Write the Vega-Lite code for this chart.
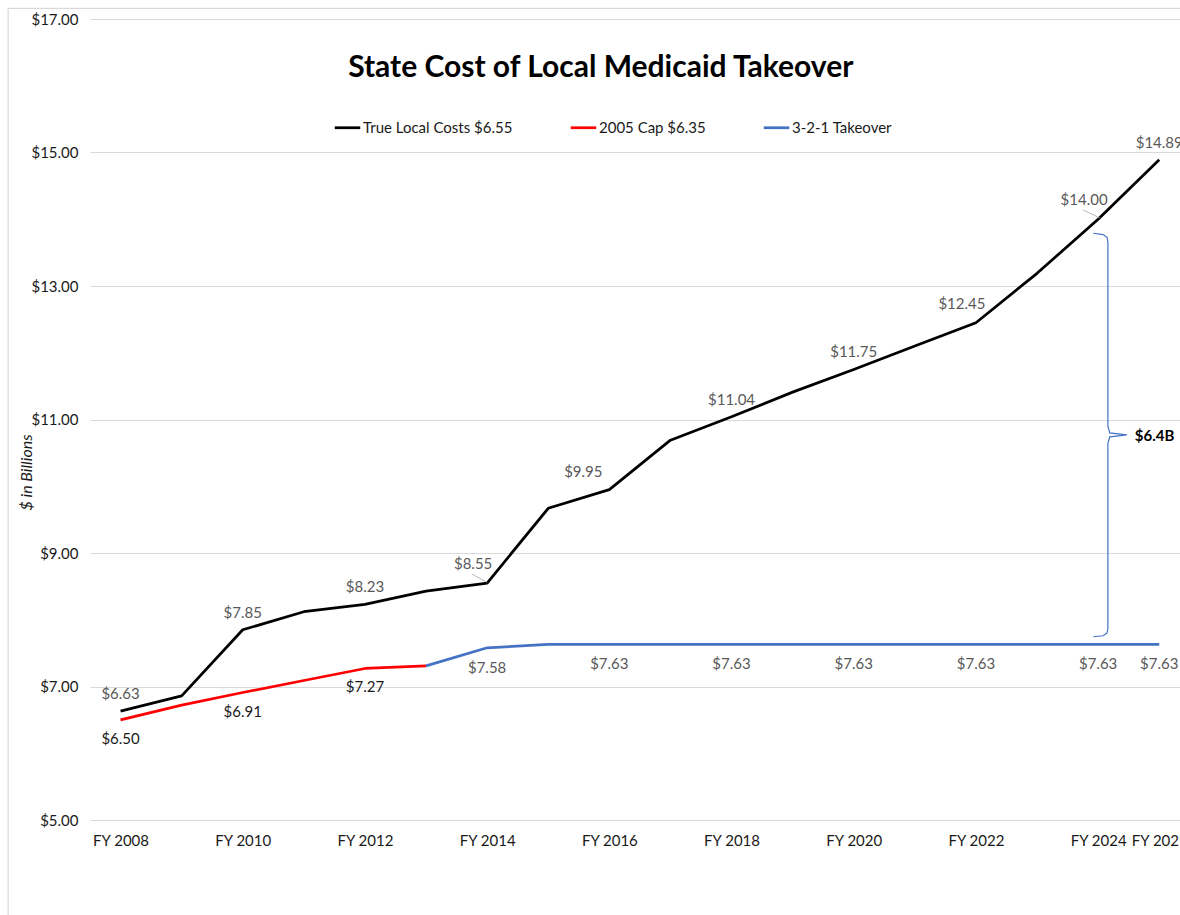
{
  "$schema": "https://vega.github.io/schema/vega-lite/v6.json",
  "autosize": "none",
  "width": 1090,
  "height": 801,
  "padding": {"left": 90, "top": 19, "right": 0, "bottom": 95},
  "config": {"font": "Lato", "view": {"stroke": null}},
  "datasets": {
    "main": [
      {"year": 2008, "series": "True Local Costs $6.55", "value": 6.63},
      {"year": 2009, "series": "True Local Costs $6.55", "value": 6.86},
      {"year": 2010, "series": "True Local Costs $6.55", "value": 7.85},
      {"year": 2011, "series": "True Local Costs $6.55", "value": 8.12},
      {"year": 2012, "series": "True Local Costs $6.55", "value": 8.23},
      {"year": 2013, "series": "True Local Costs $6.55", "value": 8.43},
      {"year": 2014, "series": "True Local Costs $6.55", "value": 8.55},
      {"year": 2015, "series": "True Local Costs $6.55", "value": 9.67},
      {"year": 2016, "series": "True Local Costs $6.55", "value": 9.95},
      {"year": 2017, "series": "True Local Costs $6.55", "value": 10.69},
      {"year": 2018, "series": "True Local Costs $6.55", "value": 11.04},
      {"year": 2019, "series": "True Local Costs $6.55", "value": 11.41},
      {"year": 2020, "series": "True Local Costs $6.55", "value": 11.75},
      {"year": 2021, "series": "True Local Costs $6.55", "value": 12.10},
      {"year": 2022, "series": "True Local Costs $6.55", "value": 12.45},
      {"year": 2023, "series": "True Local Costs $6.55", "value": 13.19},
      {"year": 2024, "series": "True Local Costs $6.55", "value": 14.00},
      {"year": 2025, "series": "True Local Costs $6.55", "value": 14.89},
      {"year": 2008, "series": "2005 Cap $6.35", "value": 6.50},
      {"year": 2009, "series": "2005 Cap $6.35", "value": 6.72},
      {"year": 2010, "series": "2005 Cap $6.35", "value": 6.91},
      {"year": 2011, "series": "2005 Cap $6.35", "value": 7.09},
      {"year": 2012, "series": "2005 Cap $6.35", "value": 7.27},
      {"year": 2013, "series": "2005 Cap $6.35", "value": 7.31},
      {"year": 2013, "series": "3-2-1 Takeover", "value": 7.31},
      {"year": 2014, "series": "3-2-1 Takeover", "value": 7.58},
      {"year": 2015, "series": "3-2-1 Takeover", "value": 7.63},
      {"year": 2016, "series": "3-2-1 Takeover", "value": 7.63},
      {"year": 2017, "series": "3-2-1 Takeover", "value": 7.63},
      {"year": 2018, "series": "3-2-1 Takeover", "value": 7.63},
      {"year": 2019, "series": "3-2-1 Takeover", "value": 7.63},
      {"year": 2020, "series": "3-2-1 Takeover", "value": 7.63},
      {"year": 2021, "series": "3-2-1 Takeover", "value": 7.63},
      {"year": 2022, "series": "3-2-1 Takeover", "value": 7.63},
      {"year": 2023, "series": "3-2-1 Takeover", "value": 7.63},
      {"year": 2024, "series": "3-2-1 Takeover", "value": 7.63},
      {"year": 2025, "series": "3-2-1 Takeover", "value": 7.63}
    ],
    "brace": [
      {"ord": 1, "bx": 2023.92, "by": 13.79},
      {"ord": 2, "bx": 2024.08, "by": 13.77},
      {"ord": 3, "bx": 2024.145, "by": 13.73},
      {"ord": 4, "bx": 2024.16, "by": 13.66},
      {"ord": 5, "bx": 2024.16, "by": 10.90},
      {"ord": 6, "bx": 2024.19, "by": 10.80},
      {"ord": 7, "bx": 2024.47, "by": 10.77},
      {"ord": 8, "bx": 2024.19, "by": 10.74},
      {"ord": 9, "bx": 2024.16, "by": 10.64},
      {"ord": 10, "bx": 2024.16, "by": 7.87},
      {"ord": 11, "bx": 2024.145, "by": 7.80},
      {"ord": 12, "bx": 2024.08, "by": 7.76},
      {"ord": 13, "bx": 2023.92, "by": 7.745}
    ]
  },
  "layer": [
    {
      "data": {"values": [{}]},
      "mark": {"type": "rect", "fill": null, "stroke": "#D9D9D9", "strokeWidth": 1.2, "clip": false},
      "encoding": {
        "x": {"datum": 2006.16, "type": "quantitative"},
        "x2": {"datum": 2027},
        "y": {"datum": 17.16, "type": "quantitative"},
        "y2": {"datum": 3}
      }
    },
    {
      "data": {"name": "main"},
      "mark": {"type": "line", "strokeWidth": 2.75, "strokeJoin": "round"},
      "encoding": {
        "x": {
          "field": "year", "type": "quantitative",
          "scale": {"domain": [2007.5, 2025.34], "nice": false, "zero": false},
          "axis": {
            "values": [2008, 2010, 2012, 2014, 2016, 2018, 2020, 2022, 2024, 2025],
            "labelExpr": "'FY ' + datum.value",
            "grid": false, "domain": false, "ticks": false,
            "labelPadding": 13, "labelFontSize": 15, "labelColor": "#1a1a1a",
            "labelFont": "Lato", "title": null, "labelFlush": false, "labelOverlap": false
          }
        },
        "y": {
          "field": "value", "type": "quantitative",
          "scale": {"domain": [5, 17], "nice": false, "zero": false},
          "axis": {
            "values": [5, 7, 9, 11, 13, 15, 17],
            "format": "$.2f",
            "grid": true, "gridColor": "#D9D9D9", "gridWidth": 1.2,
            "domain": false, "ticks": false,
            "labelPadding": 12, "labelFontSize": 15, "labelColor": "#1a1a1a",
            "title": "$ in Billions", "titleFontStyle": "italic", "titleFontWeight": "normal",
            "titleFontSize": 16, "titleColor": "#1a1a1a",
            "titleX": -64, "titleY": 453, "titleAngle": -90, "titleBaseline": "middle", "titleAlign": "center"
          }
        },
        "color": {
          "field": "series", "type": "nominal",
          "scale": {
            "domain": ["True Local Costs $6.55", "2005 Cap $6.35", "3-2-1 Takeover"],
            "range": ["#000000", "#FF0000", "#4472C4"]
          },
          "legend": {
            "orient": "none", "direction": "horizontal",
            "legendX": 243, "legendY": 94,
            "title": null,
            "symbolType": "stroke", "symbolSize": 650, "symbolStrokeWidth": 2.75,
            "labelFontSize": 15, "labelColor": "#1a1a1a", "labelOffset": 1,
            "columnPadding": 52
          }
        }
      }
    },
    {
      "data": {"name": "main"},
      "transform": [
        {"filter": "datum.series == 'True Local Costs $6.55' && (datum.year % 2 == 0 || datum.year == 2025) && indexof([2014, 2016, 2022, 2024], datum.year) < 0"}
      ],
      "mark": {"type": "text", "dy": -17, "fontSize": 15, "color": "#595959"},
      "encoding": {
        "x": {"field": "year", "type": "quantitative"},
        "y": {"field": "value", "type": "quantitative"},
        "text": {"field": "value", "type": "quantitative", "format": "$.2f"}
      }
    },
    {
      "data": {"name": "main"},
      "transform": [
        {"filter": "datum.series == 'True Local Costs $6.55' && indexof([2014, 2022, 2024], datum.year) >= 0"}
      ],
      "mark": {"type": "text", "dy": -19, "dx": -14, "fontSize": 15, "color": "#595959"},
      "encoding": {
        "x": {"field": "year", "type": "quantitative"},
        "y": {"field": "value", "type": "quantitative"},
        "text": {"field": "value", "type": "quantitative", "format": "$.2f"}
      }
    },
    {
      "data": {"name": "main"},
      "transform": [
        {"filter": "datum.series == 'True Local Costs $6.55' && datum.year == 2016"}
      ],
      "mark": {"type": "text", "dy": -18, "dx": -26, "fontSize": 15, "color": "#595959"},
      "encoding": {
        "x": {"field": "year", "type": "quantitative"},
        "y": {"field": "value", "type": "quantitative"},
        "text": {"field": "value", "type": "quantitative", "format": "$.2f"}
      }
    },
    {
      "data": {"name": "main"},
      "transform": [
        {"filter": "datum.series == '2005 Cap $6.35' && datum.year % 2 == 0"}
      ],
      "mark": {"type": "text", "dy": 19, "fontSize": 15, "color": "#1a1a1a"},
      "encoding": {
        "x": {"field": "year", "type": "quantitative"},
        "y": {"field": "value", "type": "quantitative"},
        "text": {"field": "value", "type": "quantitative", "format": "$.2f"}
      }
    },
    {
      "data": {"name": "main"},
      "transform": [
        {"filter": "datum.series == '3-2-1 Takeover' && (datum.year % 2 == 0 || datum.year == 2025)"}
      ],
      "mark": {"type": "text", "dy": 20, "fontSize": 15, "color": "#595959"},
      "encoding": {
        "x": {"field": "year", "type": "quantitative"},
        "y": {"field": "value", "type": "quantitative"},
        "text": {"field": "value", "type": "quantitative", "format": "$.2f"}
      }
    },
    {
      "data": {"values": [{}]},
      "mark": {"type": "rule", "color": "#A6A6A6", "strokeWidth": 0.8},
      "encoding": {
        "x": {"datum": 2013.75, "type": "quantitative"},
        "x2": {"datum": 2014.0},
        "y": {"datum": 8.685, "type": "quantitative"},
        "y2": {"datum": 8.56}
      }
    },
    {
      "data": {"values": [{}]},
      "mark": {"type": "rule", "color": "#A6A6A6", "strokeWidth": 0.8},
      "encoding": {
        "x": {"datum": 2023.75, "type": "quantitative"},
        "x2": {"datum": 2024.03},
        "y": {"datum": 14.14, "type": "quantitative"},
        "y2": {"datum": 14.02}
      }
    },
    {
      "data": {"name": "brace"},
      "mark": {"type": "line", "color": "#4472C4", "strokeWidth": 1.2},
      "encoding": {
        "x": {"field": "bx", "type": "quantitative"},
        "y": {"field": "by", "type": "quantitative"},
        "order": {"field": "ord", "type": "quantitative"}
      }
    },
    {
      "data": {"values": [{}]},
      "mark": {"type": "text", "text": "$6.4B", "fontWeight": "bold", "fontSize": 15, "align": "left", "baseline": "middle", "color": "#000000"},
      "encoding": {
        "x": {"datum": 2024.6, "type": "quantitative"},
        "y": {"datum": 10.75, "type": "quantitative"}
      }
    },
    {
      "data": {"values": [{}]},
      "mark": {"type": "text", "text": "State Cost of Local Medicaid Takeover", "fontWeight": "bold", "fontSize": 30, "align": "center", "baseline": "middle", "color": "#000000"},
      "encoding": {
        "x": {"datum": 2015.86, "type": "quantitative"},
        "y": {"datum": 16.27, "type": "quantitative"}
      }
    }
  ]
}
